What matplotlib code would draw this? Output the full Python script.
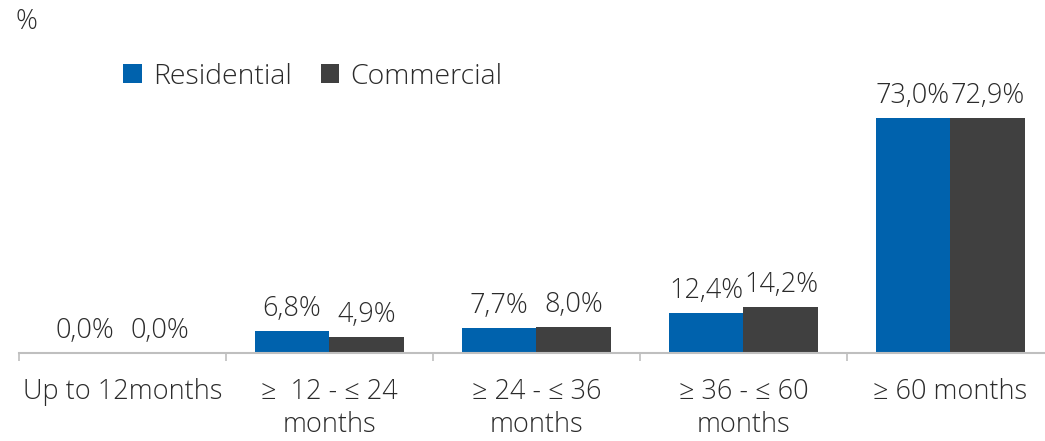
import matplotlib.pyplot as plt
import numpy as np

categories = ["Up to 12months", "\u2265  12 - \u2264 24\nmonths", "\u2265 24 - \u2264 36\nmonths",
              "\u2265 36 - \u2264 60\nmonths", "\u2265 60 months"]
residential = [0.0, 6.8, 7.7, 12.4, 73.0]
commercial = [0.0, 4.9, 8.0, 14.2, 72.9]
series_names = ["Residential", "Commercial"]
colors = ["#0062AD", "#404040"]

plt.rcParams["font.family"] = ["Open Sans", "DejaVu Sans"]
plt.rcParams["font.weight"] = "light"
FS = 19.5
TXT = "#2b2b2b"

fig = plt.figure(figsize=(10.45, 4.41), dpi=100)
ax = fig.add_axes([19 / 1045, 88 / 441, 1035 / 1045, 0.584])

x = np.arange(len(categories))
w = 0.362
bars_r = ax.bar(x - w / 2, residential, w, color=colors[0], label=series_names[0])
bars_c = ax.bar(x + w / 2, commercial, w, color=colors[1], label=series_names[1])

for bars, vals in ((bars_r, residential), (bars_c, commercial)):
    for b, v in zip(bars, vals):
        ax.annotate(f"{v:.1f}%".replace(".", ","),
                    (b.get_x() + b.get_width() / 2, b.get_height()),
                    xytext=(0, 6), textcoords="offset points",
                    ha="center", va="bottom", fontsize=FS, color=TXT)

ax.set_xlim(-0.5, len(categories) - 0.5)
ax.set_ylim(0, 80)
for s in ["top", "right", "left"]:
    ax.spines[s].set_visible(False)
ax.spines["bottom"].set_color("#bfbfbf")
ax.spines["bottom"].set_linewidth(1.5)
ax.set_yticks([])
ax.set_xticks(x)
ax.set_xticklabels(categories, fontsize=FS, color=TXT, linespacing=1.25)
ax.tick_params(axis="x", which="major", length=0, pad=18)
ax.set_xticks(np.arange(len(categories) + 1) - 0.5, minor=True)
ax.tick_params(axis="x", which="minor", length=6, width=1.2, color="#bfbfbf")

fig.legend(loc="center left", bbox_to_anchor=(0.118, 0.826), ncol=2, frameon=False,
           fontsize=20.5, handlelength=0.65, handleheight=0.65, handletextpad=0.4,
           columnspacing=1.0, borderpad=0, borderaxespad=0, labelcolor=TXT)

fig.text(0.015, 0.95, "%", fontsize=FS, color=TXT, va="center", ha="left")

fig.savefig("out.png", dpi=100)
